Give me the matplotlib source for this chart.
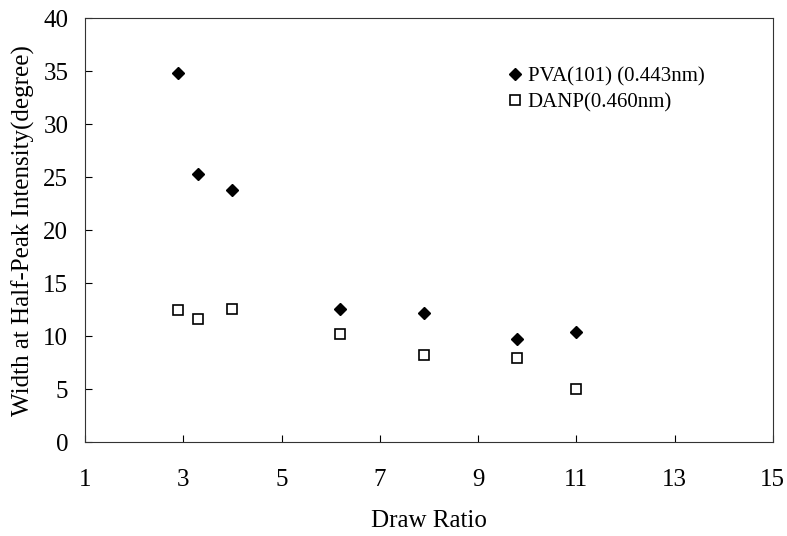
import matplotlib.pyplot as plt

plt.rcParams['font.family'] = ['Liberation Serif', 'DejaVu Serif']

draw_ratio = [2.9, 3.3, 4.0, 6.2, 7.9, 9.8, 11.0]
pva_width = [34.8, 25.3, 23.8, 12.6, 12.2, 9.7, 10.4]
danp_width = [12.5, 11.6, 12.6, 10.2, 8.2, 7.9, 5.0]

fig = plt.figure(figsize=(7.87, 5.36), dpi=100)
ax = fig.add_axes([0.108, 0.175, 0.874, 0.791])

ax.plot(draw_ratio, pva_width, linestyle='none', marker='D', ms=6,
        color='black', label='PVA(101) (0.443nm)')
ax.plot(draw_ratio, danp_width, linestyle='none', marker='s', ms=7,
        markerfacecolor='white', markeredgecolor='black', markeredgewidth=1.2,
        label='DANP(0.460nm)')

ax.set_xlim(1, 15)
ax.set_ylim(0, 40)
ax.set_xticks([1, 3, 5, 7, 9, 11, 13, 15])
ax.set_yticks(range(0, 41, 5))
ax.tick_params(direction='in', labelsize=18, length=5)
ax.tick_params(axis='y', pad=12)
ax.tick_params(axis='x', pad=19)
for s in ax.spines.values():
    s.set_linewidth(0.8)
    s.set_color('#333333')

ax.set_xlabel('Draw Ratio', fontsize=18, labelpad=14)
ax.set_ylabel('Width at Half-Peak Intensity(degree)', fontsize=18, labelpad=6)

ax.legend(loc='upper left', bbox_to_anchor=(0.583, 0.93), frameon=False,
          fontsize=15, handletextpad=0.1, labelspacing=0.3, handlelength=1.0)

fig.savefig('out.png', dpi=100)
